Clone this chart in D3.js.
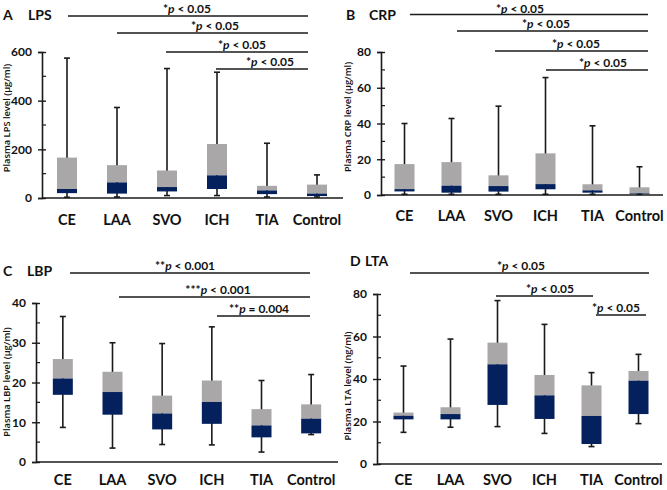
<!DOCTYPE html>
<html><head><meta charset="utf-8">
<script src="https://cdn.jsdelivr.net/npm/d3@7"></script>
<style>body{margin:0;background:#fff}svg{display:block;font-family:Lato,"Open Sans",sans-serif;font-weight:bold}</style>
</head><body><svg id="c" width="667" height="490"></svg>
<script>
const categories = ["CE","LAA","SVO","ICH","TIA","Control"];

// Panel A: LPS (µg/ml)
const lpsMin = [3, 4, 10, 10, 4, 4];
const lpsQ1  = [20, 18, 27, 37, 16, 8];
const lpsMed = [37, 64, 45, 93, 31, 18];
const lpsQ3  = [166, 135, 113, 222, 50, 55];
const lpsMax = [575, 372, 532, 517, 225, 95];
const lpsTicks = [0, 200, 400, 600];

// Panel B: CRP (µg/ml)
const crpMin = [0.4, 0.4, 0.4, 0.4, 0.4, 0.4];
const crpQ1  = [2.0, 1.3, 1.9, 3.2, 1.3, 0.5];
const crpMed = [3.3, 5.2, 5.0, 6.1, 2.6, 0.9];
const crpQ3  = [17.3, 18.4, 11.0, 23.3, 6.0, 4.3];
const crpMax = [40, 42.8, 49.7, 65.7, 38.7, 15.8];
const crpTicks = [0, 20, 40, 60, 80];

// Panel C: LBP (µg/ml)
const lbpMin = [8.7, 3.5, 4.4, 4.3, 2.5, 6.9];
const lbpQ1  = [16.9, 11.9, 8.2, 9.6, 6.2, 7.2];
const lbpMed = [21.0, 17.6, 12.2, 15.1, 9.2, 10.9];
const lbpQ3  = [25.9, 22.7, 16.7, 20.5, 13.3, 14.5];
const lbpMax = [36.6, 30.0, 29.8, 34.0, 20.5, 22.0];
const lbpTicks = [0, 10, 20, 30, 40];

// Panel D: LTA (ng/ml)
const ltaMin = [14.9, 17.3, 17.6, 14.4, 8.2, 19.0];
const ltaQ1  = [21.0, 21.0, 27.8, 21.2, 9.4, 23.5];
const ltaMed = [22.7, 23.5, 46.9, 32.3, 22.6, 39.2];
const ltaQ3  = [24.2, 26.7, 57.1, 41.9, 37.0, 43.8];
const ltaMax = [46.1, 58.8, 76.9, 65.7, 43.0, 51.6];
const ltaTicks = [0, 20, 40, 60, 80];

// significance brackets: [fromCategory, toCategory, stars, relation, value]
const lpsSig = [["CE","Control","*","<","0.05"],["LAA","Control","*","<","0.05"],["SVO","Control","*","<","0.05"],["ICH","Control","*","<","0.05"]];
const crpSig = [["CE","Control","*","<","0.05"],["LAA","Control","*","<","0.05"],["SVO","Control","*","<","0.05"],["ICH","Control","*","<","0.05"]];
const lbpSig = [["CE","Control","**","<","0.001"],["LAA","Control","***","<","0.001"],["ICH","Control","**","=","0.004"]];
const ltaSig = [["CE","Control","*","<","0.05"],["SVO","TIA","*","<","0.05"],["TIA","Control","*","<","0.05"]];

const NAVY = "#04215e", GREY = "#a9a7a7", INK = "#1a1a1a";
const svg = d3.select("#c");

function panel(cfg) {
  const g = svg.append("g");
  const x = d3.scaleBand().domain(categories).range(cfg.xr);
  const y = d3.scaleLinear().domain([0, cfg.ymax]).range(cfg.yr);
  const cx = c => x(c) + x.bandwidth() / 2;
  const bw = 20, cap = 6;
  const rows = categories.map((c, i) => ({c, mn: cfg.mn[i], q1: cfg.q1[i], md: cfg.md[i], q3: cfg.q3[i], mx: cfg.mx[i]}));

  g.selectAll(".wh").data(rows).enter().append("line")
    .attr("x1", d => cx(d.c)).attr("x2", d => cx(d.c))
    .attr("y1", d => y(d.mx)).attr("y2", d => y(d.mn))
    .attr("stroke", INK).attr("stroke-width", 1.6);
  g.selectAll(".capT").data(rows).enter().append("line")
    .attr("x1", d => cx(d.c) - cap/2).attr("x2", d => cx(d.c) + cap/2)
    .attr("y1", d => y(d.mx)).attr("y2", d => y(d.mx))
    .attr("stroke", INK).attr("stroke-width", 1.6);
  g.selectAll(".capB").data(rows).enter().append("line")
    .attr("x1", d => cx(d.c) - cap/2).attr("x2", d => cx(d.c) + cap/2)
    .attr("y1", d => y(d.mn)).attr("y2", d => y(d.mn))
    .attr("stroke", INK).attr("stroke-width", 1.6);
  g.selectAll(".up").data(rows).enter().append("rect")
    .attr("x", d => cx(d.c) - bw/2).attr("width", bw)
    .attr("y", d => y(d.q3)).attr("height", d => y(d.md) - y(d.q3))
    .attr("fill", GREY);
  g.selectAll(".lo").data(rows).enter().append("rect")
    .attr("x", d => cx(d.c) - bw/2).attr("width", bw)
    .attr("y", d => y(d.md)).attr("height", d => y(d.q1) - y(d.md))
    .attr("fill", NAVY);

  const ax = cfg.xr[0] - cfg.axOff;
  const yAxis = d3.axisLeft(y).tickValues(cfg.ticks).tickSize(4).tickPadding(6).tickFormat(d3.format("d"));
  const ya = g.append("g").attr("transform", `translate(${ax},0)`).call(yAxis);
  ya.select(".domain").attr("stroke", INK).attr("stroke-width", 1.6);
  ya.selectAll(".tick line").attr("x2", 4).attr("x1", -4).attr("stroke", INK).attr("stroke-width", 1.4);
  ya.selectAll("text").attr("font-size", 12).attr("font-weight", "bold").attr("fill", "#111").attr("font-family", "Lato,sans-serif");
  const minors = cfg.ticks.slice(1).map((t, i) => (t + cfg.ticks[i]) / 2);
  g.selectAll(".mn").data(minors).enter().append("line")
    .attr("x1", ax).attr("x2", ax + 4).attr("y1", d => y(d)).attr("y2", d => y(d))
    .attr("stroke", INK).attr("stroke-width", 1.2);
  g.append("line").attr("x1", ax).attr("x2", cfg.xEnd).attr("y1", y(0)).attr("y2", y(0))
    .attr("stroke", INK).attr("stroke-width", 1.6);
  g.selectAll(".cl").data(categories).enter().append("text")
    .attr("x", c => cx(c)).attr("y", cfg.catY).attr("text-anchor", "middle")
    .attr("font-size", 14.5).attr("fill", "#111").text(c => c);
  g.append("text").attr("transform", `translate(${cfg.ylx},${cfg.yly}) rotate(-90)`)
    .attr("text-anchor", "middle").attr("font-size", 9.3).attr("font-weight", 600)
    .attr("font-family", "'Open Sans',sans-serif").attr("fill", "#111").text(cfg.ylabel);
  g.append("text").attr("x", cfg.lx).attr("y", cfg.ly).attr("font-size", 14).attr("fill", "#111").text(cfg.letter);
  g.append("text").attr("x", cfg.tx).attr("y", cfg.ly).attr("font-size", 14).attr("fill", "#111").text(cfg.title);
  cfg.sig.forEach((s, i) => {
    const ly = cfg.sigY[i];
    const a = cfg.sigX1[i], b = cfg.sigX2[i];
    g.append("line").attr("x1", a).attr("x2", b).attr("y1", ly).attr("y2", ly)
      .attr("stroke", INK).attr("stroke-width", 1.6);
    const t = g.append("text").attr("x", cfg.sigTx[i]).attr("y", Math.max(ly - 3.5, 12.5)).attr("text-anchor", "middle")
      .attr("font-size", 12).attr("fill", "#111");
    t.append("tspan").text(s[2]);
    t.append("tspan").attr("font-style", "italic").text("p");
    t.append("tspan").text(` ${s[3]} ${s[4]}`);
  });
}

panel({letter:"A", title:"LPS", lx:3, tx:28, ly:20, xr:[42,342], yr:[198,52], ymax:600, axOff:0, xEnd:343, catY:225,
  mn:lpsMin, q1:lpsQ1, md:lpsMed, q3:lpsQ3, mx:lpsMax, ticks:lpsTicks,
  ylabel:"Plasma LPS level (μg/ml)", ylx:10, yly:118,
  sig:lpsSig, sigY:[16,33,52,69], sigX1:[68,117,166,216], sigX2:[308,308,308,308], sigTx:[187,215,242,270]});
panel({letter:"B", title:"CRP", lx:346, tx:369, ly:20, xr:[381,663], yr:[195,52], ymax:80, axOff:0, xEnd:663, catY:221,
  mn:crpMin, q1:crpQ1, md:crpMed, q3:crpQ3, mx:crpMax, ticks:crpTicks,
  ylabel:"Plasma CRP level (μg/ml)", ylx:351, yly:117,
  sig:crpSig, sigY:[14.5,31,51,70], sigX1:[410,457,495,546], sigX2:[648,648,648,648], sigTx:[520,546,576,603]});
panel({letter:"C", title:"LBP", lx:3, tx:27, ly:276, xr:[38,336], yr:[462,303], ymax:40, axOff:2, xEnd:338, catY:485,
  mn:lbpMin, q1:lbpQ1, md:lbpMed, q3:lbpQ3, mx:lbpMax, ticks:lbpTicks,
  ylabel:"Plasma LBP level (μg/ml)", ylx:10, yly:382,
  sig:lbpSig, sigY:[273,297,316], sigX1:[70,119,217], sigX2:[310,310,310], sigTx:[185,218,259]});
panel({letter:"D", title:"LTA", lx:350, tx:365, ly:266, xr:[380,662], yr:[464,294], ymax:80, axOff:3, xEnd:662, catY:485,
  mn:ltaMin, q1:ltaQ1, md:ltaMed, q3:ltaQ3, mx:ltaMax, ticks:ltaTicks,
  ylabel:"Plasma LTA level (ng/ml)", ylx:351, yly:386,
  sig:ltaSig, sigY:[273,296,315], sigX1:[410,496,596], sigX2:[649,593,646], sigTx:[521,550,616]});
</script></body></html>
